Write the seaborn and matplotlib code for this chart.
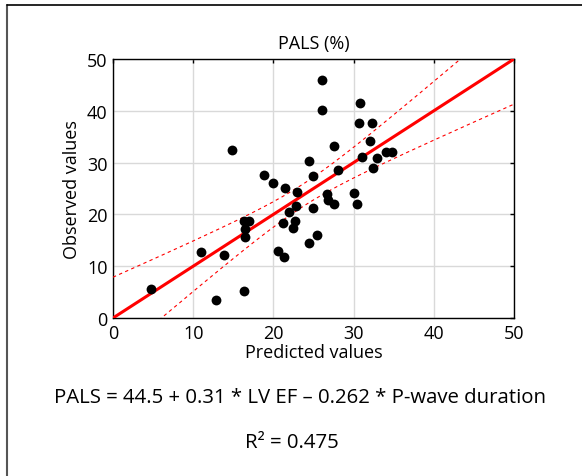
"""Observed vs predicted PALS (%) with regression line and 95% confidence bands."""
import numpy as np
import pandas as pd
import matplotlib
matplotlib.use("Agg")
import matplotlib.pyplot as plt
from matplotlib.lines import Line2D
import seaborn as sns
from scipy import stats

# --- data ---
predicted = [4.8, 12.8, 16.3, 11.0, 13.8, 14.9, 16.3, 16.9, 16.5, 16.5,
             18.8, 20.0, 21.5, 22.9, 20.6, 21.3, 21.2, 22.0, 22.8, 22.7,
             22.5, 24.4, 25.4, 24.5, 24.9, 24.9, 26.0, 26.1, 27.5, 28.1,
             26.7, 26.8, 27.5, 30.8, 30.7, 32.3, 32.0, 31.1, 32.9, 32.4,
             34.1, 34.8, 30.0, 30.4]
observed = [5.6, 3.5, 5.3, 12.7, 12.2, 32.4, 18.8, 18.7, 17.2, 15.6,
            27.7, 26.0, 25.1, 24.4, 13.0, 11.7, 18.4, 20.4, 21.7, 18.8,
            17.4, 14.4, 16.1, 30.4, 27.5, 21.3, 45.9, 40.2, 33.2, 28.5,
            23.9, 22.7, 22.1, 41.6, 37.7, 37.7, 34.1, 31.0, 30.9, 29.0,
            32.0, 32.0, 24.1, 22.0]
title = "PALS (%)"
equation = "PALS = 44.5 + 0.31 * LV EF \u2013 0.262 * P-wave duration"
r2_text = "R\u00b2 = 0.475"
ticks = [0, 10, 20, 30, 40, 50]

df = pd.DataFrame({"predicted": predicted, "observed": observed})

# fitted line: observed regressed on predicted is the identity line
x = df["predicted"].to_numpy()
y = df["observed"].to_numpy()
n = len(x)
resid = y - x
s = np.sqrt(np.sum(resid ** 2) / (n - 2))
sxx = np.sum((x - x.mean()) ** 2)
t = stats.t.ppf(0.975, n - 2)
grid = np.linspace(0, 50, 200)
half = t * s * np.sqrt(1 / n + (grid - x.mean()) ** 2 / sxx)

sns.set_theme(style="whitegrid")
plt.rcParams["font.family"] = ["Open Sans", "DejaVu Sans"]
plt.rcParams.update({"text.color": "black", "axes.labelcolor": "black",
                     "xtick.color": "black", "ytick.color": "black"})

fig = plt.figure(figsize=(5.82, 4.77), dpi=100)
ax = fig.add_axes([113 / 582, 1 - 319 / 477, 401 / 582, 259 / 477])

ax.plot(grid, grid, color="#ff0000", lw=2.2, zorder=3)
ax.plot(grid, grid + half, color="#ff0000", lw=0.8, ls=(0, (3, 3)), zorder=3)
ax.plot(grid, grid - half, color="#ff0000", lw=0.8, ls=(0, (3, 3)), zorder=3)
sns.scatterplot(data=df, x="predicted", y="observed", ax=ax, color="black",
                s=50, edgecolor="black", linewidth=0, zorder=4)

ax.set_xlim(0, 50)
ax.set_ylim(0, 50)
ax.set_xticks(ticks)
ax.set_yticks(ticks)
ax.grid(True, color="#d9d9d9", lw=1)
for sp in ax.spines.values():
    sp.set_color("black")
    sp.set_linewidth(1)
ax.tick_params(direction="in", length=3, width=1, color="black",
               labelsize=13, pad=4, top=True, right=True,
               labeltop=False, labelright=False)
ax.set_xlabel("Predicted values", fontsize=13, labelpad=1)
ax.set_ylabel("Observed values", fontsize=13, labelpad=4)
ax.set_title(title, fontsize=13, pad=8)

fig.text(300 / 582, 1 - 398 / 477, equation, ha="center", va="center", fontsize=14.7)
fig.text(292 / 582, 1 - 443 / 477, r2_text, ha="center", va="center", fontsize=14.7)

# outer frame of the original figure panel
fig.add_artist(Line2D([7 / 582, 7 / 582], [0, 1 - 6 / 477],
                      transform=fig.transFigure, color="#555555", lw=1.5))
fig.add_artist(Line2D([7 / 582, 1], [1 - 6 / 477, 1 - 6 / 477],
                      transform=fig.transFigure, color="black", lw=1.2))

fig.savefig("out.png", dpi=100, facecolor="white")
